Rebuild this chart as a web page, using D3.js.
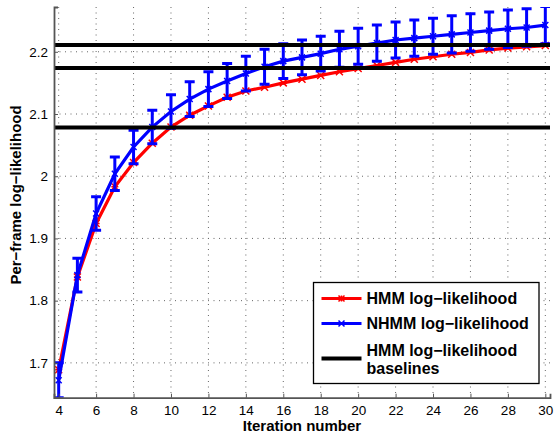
<html>
  <head>
    <script src="https://cdnjs.cloudflare.com/ajax/libs/d3/7.8.5/d3.min.js"></script>
    <style>
      body { margin: 0; background: #fff; }
      text { font-family: "Liberation Sans", Arial, sans-serif; }
    </style>
  </head>
  <body>
    <svg id="chart" width="554" height="437"></svg>
    <script>

      // data
      var iterations = d3.range(4, 31);
      var hmmLL = [1.689, 1.838, 1.924, 1.983, 2.022, 2.053, 2.079, 2.098, 2.113, 2.127, 2.137, 2.143,
                   2.150, 2.156, 2.162, 2.168, 2.173, 2.178, 2.183, 2.188, 2.192, 2.196, 2.199, 2.203,
                   2.206, 2.208, 2.210];
      var nhmmLL = [1.672, 1.841, 1.940, 2.004, 2.047, 2.079, 2.104, 2.124, 2.140, 2.153, 2.165, 2.176,
                    2.185, 2.191, 2.197, 2.204, 2.209, 2.214, 2.219, 2.222, 2.225, 2.228, 2.231, 2.234,
                    2.237, 2.239, 2.243];
      var nhmmErr = [0.028, 0.027, 0.027, 0.027, 0.027, 0.027, 0.027, 0.028, 0.028, 0.028, 0.028, 0.028,
                     0.028, 0.028, 0.028, 0.029, 0.029, 0.029, 0.029, 0.029, 0.029, 0.030, 0.030, 0.030,
                     0.030, 0.030, 0.030];
      var baselines = [2.2108, 2.174, 2.0785];
      var xTicks = d3.range(4, 31, 2);
      var yTicks = [1.7, 1.8, 1.9, 2.0, 2.1, 2.2];
      var legendLabels = ["HMM log\u2212likelihood", "NHMM log\u2212likelihood", "HMM log\u2212likelihood", "baselines"];

      var svg = d3.select("#chart");
      var pL = 54, pR = 550, pT = 7, pB = 397.7;

      var x = d3.scaleLinear().domain([3.75, 30.25]).range([pL, pR]);
      var y = d3.scaleLinear().domain([1.644, 2.272]).range([pB, pT]);

      svg.append("defs").append("clipPath").attr("id", "plotclip")
        .append("rect").attr("x", pL).attr("y", pT)
        .attr("width", pR - pL).attr("height", pB - pT);

      // dotted grid
      var grid = svg.append("g");
      grid.selectAll("line.vg").data(xTicks).enter().append("line")
        .attr("x1", d => x(d)).attr("x2", d => x(d))
        .attr("y1", pT).attr("y2", pB)
        .style("stroke", "#666").style("stroke-width", 1).style("stroke-dasharray", "1,4.5");
      grid.selectAll("line.hg").data(yTicks).enter().append("line")
        .attr("y1", d => y(d)).attr("y2", d => y(d))
        .attr("x1", pL).attr("x2", pR)
        .style("stroke", "#666").style("stroke-width", 1).style("stroke-dasharray", "1,4.5");

      var plot = svg.append("g").attr("clip-path", "url(#plotclip)");

      var line = d3.line().x((d, i) => x(iterations[i])).y(d => y(d));

      // HMM
      plot.append("path").datum(hmmLL).attr("d", line)
        .style("fill", "none").style("stroke", "#ff0000").style("stroke-width", 3.2);
      plot.selectAll("path.hm").data(hmmLL).enter().append("path")
        .attr("d", (d, i) => {
          var cx = x(iterations[i]), cy = y(d), s = 3.5;
          return "M" + (cx - s) + "," + (cy - s) + "L" + (cx + s) + "," + (cy + s) +
                 "M" + (cx - s) + "," + (cy + s) + "L" + (cx + s) + "," + (cy - s) +
                 "M" + (cx - s) + "," + cy + "L" + (cx + s) + "," + cy;
        })
        .style("stroke", "#ff0000").style("stroke-width", 1.5);

      // NHMM with error bars
      plot.append("path").datum(nhmmLL).attr("d", line)
        .style("fill", "none").style("stroke", "#0000ff").style("stroke-width", 3.2);
      var eb = plot.selectAll("g.eb").data(nhmmLL).enter().append("g");
      eb.append("line")
        .attr("x1", (d, i) => x(iterations[i])).attr("x2", (d, i) => x(iterations[i]))
        .attr("y1", (d, i) => y(d + nhmmErr[i])).attr("y2", (d, i) => y(d - nhmmErr[i]))
        .style("stroke", "#0000ff").style("stroke-width", 3);
      eb.append("line")
        .attr("x1", (d, i) => x(iterations[i]) - 5).attr("x2", (d, i) => x(iterations[i]) + 5)
        .attr("y1", (d, i) => y(d + nhmmErr[i])).attr("y2", (d, i) => y(d + nhmmErr[i]))
        .style("stroke", "#0000ff").style("stroke-width", 3);
      eb.append("line")
        .attr("x1", (d, i) => x(iterations[i]) - 5).attr("x2", (d, i) => x(iterations[i]) + 5)
        .attr("y1", (d, i) => y(d - nhmmErr[i])).attr("y2", (d, i) => y(d - nhmmErr[i]))
        .style("stroke", "#0000ff").style("stroke-width", 3);
      eb.append("path")
        .attr("d", (d, i) => {
          var cx = x(iterations[i]), cy = y(d), s = 3;
          return "M" + (cx - s) + "," + (cy - s) + "L" + (cx + s) + "," + (cy + s) +
                 "M" + (cx - s) + "," + (cy + s) + "L" + (cx + s) + "," + (cy - s);
        })
        .style("stroke", "#0000ff").style("stroke-width", 1.5);

      // baselines
      plot.selectAll("line.base").data(baselines).enter().append("line")
        .attr("x1", pL).attr("x2", pR)
        .attr("y1", d => y(d)).attr("y2", d => y(d))
        .style("stroke", "#000").style("stroke-width", 4);

      // axes
      var xAxis = svg.append("g").attr("transform", "translate(0," + pB + ")")
        .call(d3.axisBottom(x).tickValues(xTicks).tickSize(-4).tickPadding(8));
      var yAxis = svg.append("g").attr("transform", "translate(" + pL + ",0)")
        .call(d3.axisLeft(y).tickValues(yTicks).tickSize(-4).tickPadding(6)
          .tickFormat(d => String(+d.toFixed(1))));
      [xAxis, yAxis].forEach(a => {
        a.select(".domain").style("stroke", "#555").style("stroke-width", 1.8);
        a.selectAll(".tick line").style("stroke", "#555");
        a.selectAll("text").style("font-size", "13.5px").style("fill", "#000")
          .style("font-family", "Liberation Sans, Arial, sans-serif");
      });

      svg.append("text").attr("x", (pL + pR) / 2).attr("y", 431)
        .attr("text-anchor", "middle").style("font-size", "15px").style("font-weight", "bold")
        .text("Iteration number");
      svg.append("text").attr("transform", "translate(21,195) rotate(-90)")
        .attr("text-anchor", "middle").style("font-size", "15px").style("font-weight", "bold")
        .text("Per\u2212frame log\u2212likelihood");

      // legend
      var lg = svg.append("g");
      lg.append("rect").attr("x", 313.5).attr("y", 282.5).attr("width", 225.5).attr("height", 101)
        .style("fill", "#fff").style("stroke", "#000").style("stroke-width", 1.3);
      var rows = [
        {y: 298.5, color: "#ff0000", w: 3.2, mark: "ast"},
        {y: 323.5, color: "#0000ff", w: 3.2, mark: "x"},
        {y: 358.5, color: "#000", w: 4, mark: null}
      ];
      rows.forEach(r => {
        lg.append("line").attr("x1", 321.5).attr("x2", 361.5).attr("y1", r.y).attr("y2", r.y)
          .style("stroke", r.color).style("stroke-width", r.w);
        if (r.mark) {
          var cx = 341.5, s = 3;
          var d = "M" + (cx - s) + "," + (r.y - s) + "L" + (cx + s) + "," + (r.y + s) +
                  "M" + (cx - s) + "," + (r.y + s) + "L" + (cx + s) + "," + (r.y - s);
          if (r.mark === "ast") d += "M" + cx + "," + (r.y - s) + "L" + cx + "," + (r.y + s);
          lg.append("path").attr("d", d).style("stroke", r.color).style("stroke-width", 1.5);
        }
      });
      var textY = [304, 329, 355.5, 374];
      legendLabels.forEach((t, i) => {
        lg.append("text").attr("x", 366.5).attr("y", textY[i])
          .style("font-size", "16px").style("font-weight", "bold").text(t);
      });

    </script>
  </body>
</html>
